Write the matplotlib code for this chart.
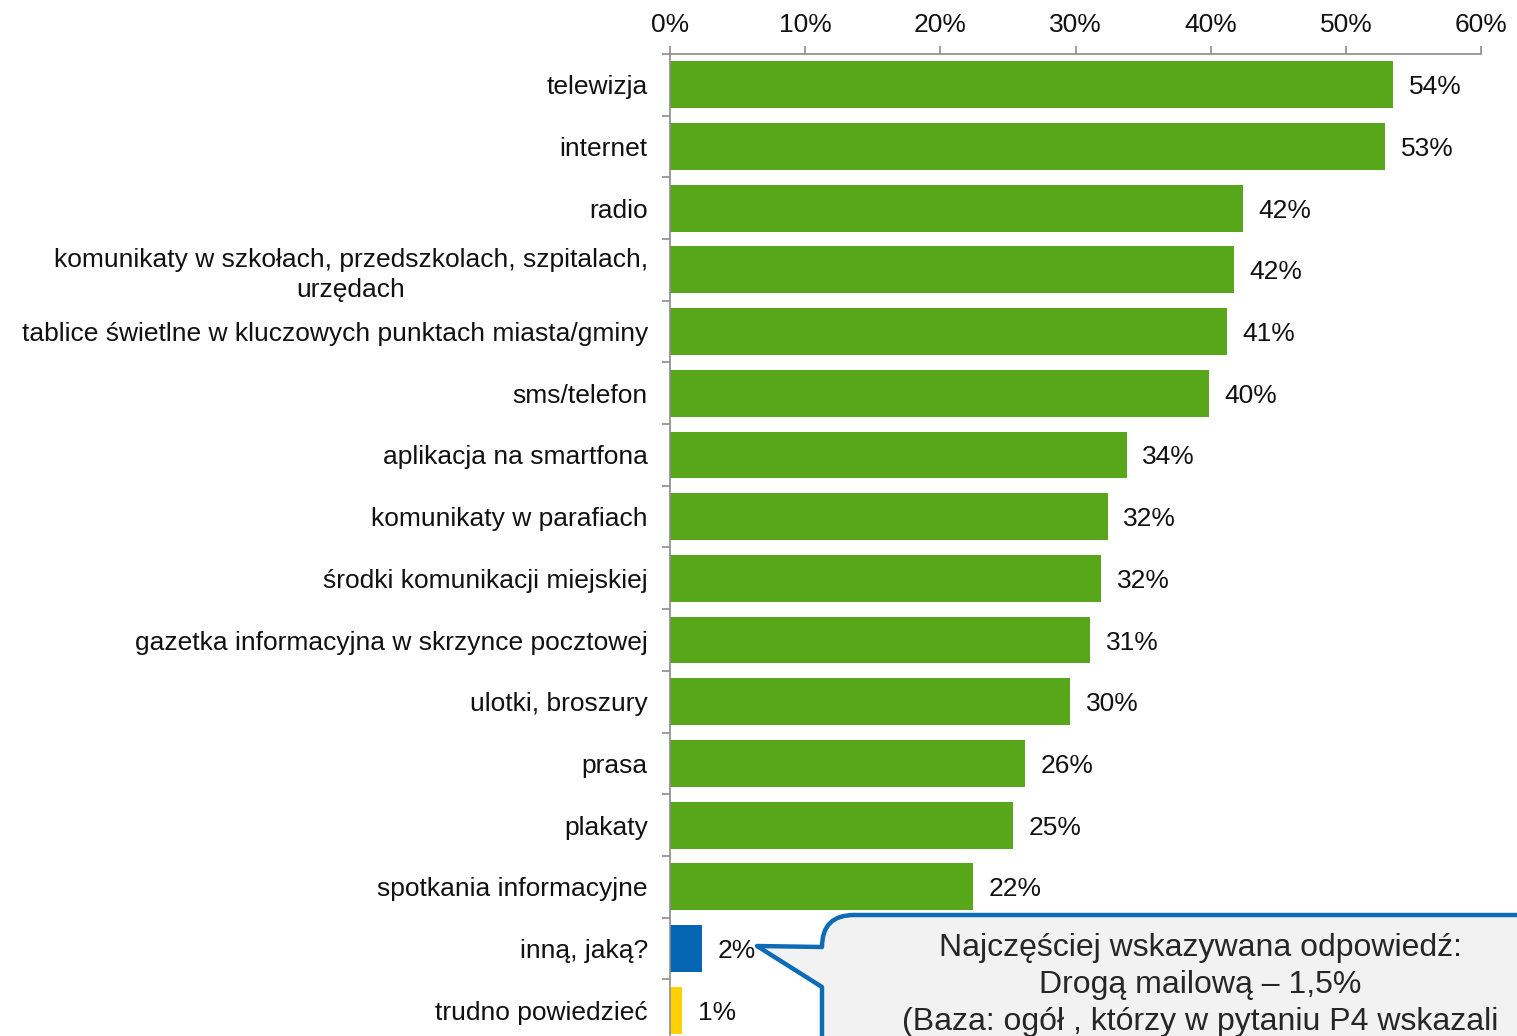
import matplotlib
matplotlib.use("Agg")
import matplotlib.pyplot as plt
from matplotlib.path import Path
from matplotlib.patches import PathPatch
from matplotlib.ticker import FixedLocator

plt.rcParams['font.family'] = ['Liberation Sans', 'DejaVu Sans']

categories = [
    "telewizja", "internet", "radio",
    "komunikaty w szkołach, przedszkolach, szpitalach,\nurzędach",
    "tablice świetlne w kluczowych punktach miasta/gminy",
    "sms/telefon", "aplikacja na smartfona", "komunikaty w parafiach",
    "środki komunikacji miejskiej",
    "gazetka informacyjna w skrzynce pocztowej",
    "ulotki, broszury", "prasa", "plakaty", "spotkania informacyjne",
    "inną, jaką?", "trudno powiedzieć",
]
values = [53.5, 52.9, 42.4, 41.7, 41.2, 39.9, 33.8, 32.4, 31.9, 31.1,
          29.6, 26.3, 25.4, 22.4, 2.4, 0.9]
value_labels = ["54%", "53%", "42%", "42%", "41%", "40%", "34%", "32%",
                "32%", "31%", "30%", "26%", "25%", "22%", "2%", "1%"]
xticks = [0, 10, 20, 30, 40, 50, 60]
xtick_labels = ["0%", "10%", "20%", "30%", "40%", "50%", "60%"]
callout_text = ("Najczęściej wskazywana odpowiedź:\nDrogą mailową – 1,5%\n"
                "(Baza: ogół , którzy w pytaniu P4 wskazali")

GREEN = "#58A61A"
BLUE = "#0566B3"
YELLOW = "#FFD100"
colors = [GREEN] * 14 + [BLUE, YELLOW]
TXT = "#111111"
FS = 19

W, H = 1517, 1036
fig = plt.figure(figsize=(W / 100, H / 100), dpi=100)

left_px, right_px, top_px, bottom_px = 670, 1481, 54, 1041
ax = fig.add_axes([left_px / W, 1 - bottom_px / H,
                   (right_px - left_px) / W, (bottom_px - top_px) / H])

y = list(range(len(categories)))
ax.barh(y, values, height=0.76, color=colors, zorder=2)
for yi, v, lab in zip(y, values, value_labels):
    ax.text(v + 1.15, yi, lab, va="center_baseline", ha="left", fontsize=FS,
            color=TXT)

ax.set_xlim(0, 60)
ax.set_ylim(len(categories) - 0.5, -0.5)
ax.xaxis.tick_top()
ax.set_xticks(xticks)
ax.set_xticklabels(xtick_labels, fontsize=FS, color=TXT)
ax.tick_params(axis="x", direction="out", length=6, width=1.2,
               color="#8c8c8c", pad=6)

ax.set_yticks(y)
ax.set_yticklabels(categories, fontsize=FS, color=TXT,
                   multialignment="center", linespacing=1.3)
for t in ax.get_yticklabels():
    t.set_verticalalignment("center_baseline")
ax.tick_params(axis="y", which="major", length=0, pad=16)
ax.yaxis.set_minor_locator(FixedLocator([i + 0.5 for i in range(-1, len(categories))]))
ax.tick_params(axis="y", which="minor", length=6, width=1.2, color="#8c8c8c")

for s in ["right", "bottom"]:
    ax.spines[s].set_visible(False)
for s in ["left", "top"]:
    ax.spines[s].set_color("#8c8c8c")
    ax.spines[s].set_linewidth(1.2)

# callout box (pixel coords, top-down)
r = 32
pts = [
    (1540, 915), (822 + r, 915), (822, 915), (822, 915 + r),
    (757, 946), (822, 987), (822, 1060), (1540, 1060), (1540, 915),
]
codes = [Path.MOVETO, Path.LINETO, Path.CURVE3, Path.CURVE3,
         Path.LINETO, Path.LINETO, Path.LINETO, Path.LINETO, Path.CLOSEPOLY]
verts = [(px / W, 1 - py / H) for px, py in pts]
patch = PathPatch(Path(verts, codes), transform=fig.transFigure,
                  facecolor="#F2F2F2", edgecolor="#0E6BB5", linewidth=3.2,
                  joinstyle="round", zorder=5)
fig.patches.append(patch)
fig.text(1200 / W, 1 - 985 / H, callout_text, ha="center", va="center",
         fontsize=23, color="#262626", linespacing=1.31, zorder=6)

fig.savefig("out.png", dpi=100)
